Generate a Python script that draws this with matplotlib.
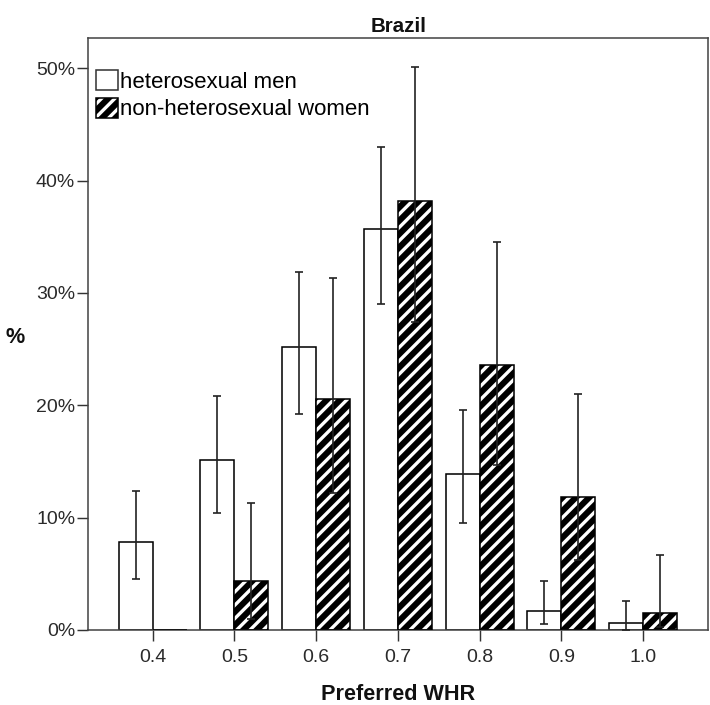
import matplotlib
matplotlib.use("Agg")
import matplotlib.pyplot as plt
import numpy as np
from matplotlib.patches import Patch
from matplotlib.legend_handler import HandlerTuple

categories = ["0.4", "0.5", "0.6", "0.7", "0.8", "0.9", "1.0"]
men = [7.8, 15.1, 25.15, 35.7, 13.9, 1.7, 0.6]
men_lo = [4.55, 10.4, 19.2, 29.0, 9.5, 0.5, 0.0]
men_hi = [12.4, 20.85, 31.85, 42.95, 19.6, 4.4, 2.6]
women = [0.0, 4.4, 20.6, 38.2, 23.6, 11.8, 1.5]
women_lo = [np.nan, 1.0, 12.2, 27.4, 14.7, 6.2, 0.3]
women_hi = [np.nan, 11.3, 31.3, 50.1, 34.55, 21.0, 6.65]
yticks = [0, 10, 20, 30, 40, 50]

DPI = 80
plt.rcParams['font.family'] = ['Liberation Sans', 'DejaVu Sans']
plt.rcParams['hatch.linewidth'] = 3.0

fig = plt.figure(figsize=(710 / DPI, 705 / DPI), dpi=DPI)
ax = fig.add_axes([88 / 710, 1 - 630 / 705, (708.5 - 88) / 710, (630 - 38.5) / 705])

x = np.arange(len(categories))
w = 0.416
men = np.array(men); women = np.array(women)
men_lo = np.array(men_lo); men_hi = np.array(men_hi)
women_lo = np.array(women_lo); women_hi = np.array(women_hi)

ax.bar(x - w / 2, men, w, facecolor='white', edgecolor='black', linewidth=1.4, zorder=2)
ax.bar(x + w / 2, women, w, facecolor='black', edgecolor='white', linewidth=0, hatch='//', zorder=2)
ax.bar(x + w / 2, women, w, fill=False, edgecolor='black', linewidth=1.4, zorder=3)

ax.errorbar(x - w / 2, men, yerr=[men - men_lo, men_hi - men], fmt='none',
            ecolor='#222222', elinewidth=1.5, capsize=3.5, capthick=1.5, zorder=4)
ax.errorbar(x + w / 2, women, yerr=[women - women_lo, women_hi - women], fmt='none',
            ecolor='#222222', elinewidth=1.5, capsize=3.5, capthick=1.5, zorder=4)

ax.set_xlim(-0.79, 6.80)
ax.set_ylim(0, 52.65)
ax.set_xticks(x)
ax.set_xticklabels(categories)
ax.set_yticks(yticks)
ax.set_yticklabels([f"{v}%" for v in yticks])
ax.tick_params(axis='both', direction='out', length=10, width=1.3, color='#333333',
               labelsize=17.5, labelcolor='#2a2a2a')
ax.tick_params(axis='x', pad=7)
ax.tick_params(axis='y', pad=1.5)
for s in ax.spines.values():
    s.set_color('#444444')
    s.set_linewidth(1.4)

ax.set_title("Brazil", fontsize=18.5, fontweight='bold', pad=6, color='#111111')
ax.set_xlabel("Preferred WHR", fontsize=19.5, fontweight='bold', labelpad=16, color='#111111')
ax.set_ylabel("%", fontsize=19.5, fontweight='bold', rotation=0, va='center', ha='center',
              color='#111111')
ax.yaxis.set_label_coords(-0.117, 0.495)

h_men = Patch(facecolor='white', edgecolor='#333333', linewidth=1.4)
h_w1 = Patch(facecolor='black', edgecolor='white', linewidth=0, hatch='//')
h_w2 = Patch(fill=False, edgecolor='black', linewidth=1.4)
leg = ax.legend([h_men, (h_w1, h_w2)], ["heterosexual men", "non-heterosexual women"],
                handler_map={tuple: HandlerTuple(ndivide=1, pad=0)},
                loc='upper left', bbox_to_anchor=(-0.005, 0.965), frameon=False,
                fontsize=20, handlelength=1.0, handleheight=1.0, handletextpad=0.1,
                labelspacing=0.22, borderaxespad=0.3, borderpad=0.2)

fig.savefig("out.png", dpi=DPI)
